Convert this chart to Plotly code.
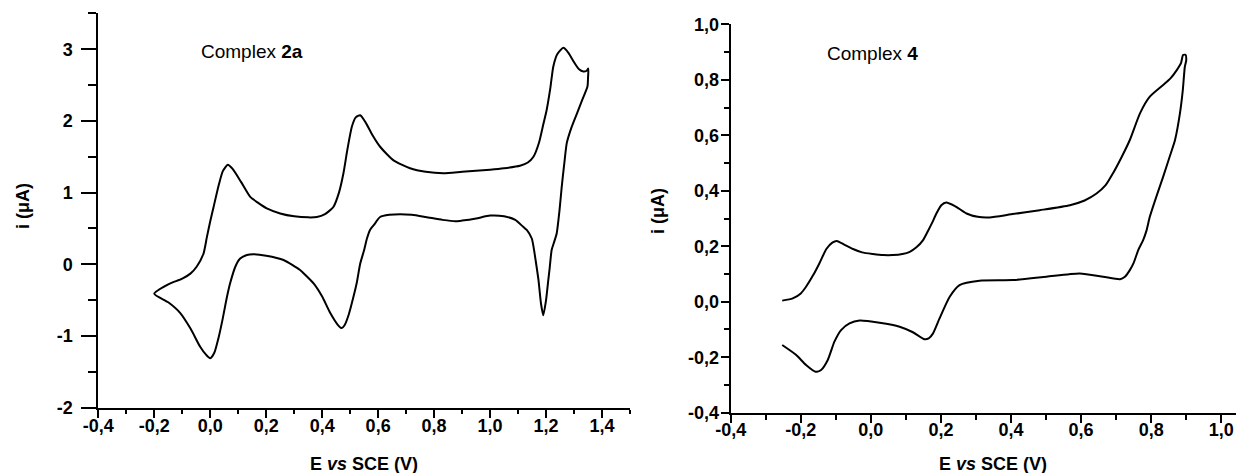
import plotly.graph_objects as go

# ---- Complex 2a (left panel) ----
e_2a = [-0.2, -0.15, -0.1, -0.071, -0.048, -0.024, -0.012, 0.0, 0.012, 0.03, 0.045, 0.063, 0.08, 0.11,
        0.143, 0.17, 0.202, 0.25, 0.3, 0.35, 0.381, 0.41, 0.44, 0.46, 0.476, 0.49, 0.506, 0.52, 0.536,
        0.555, 0.58, 0.607, 0.655, 0.714, 0.77, 0.833, 0.9, 1.0, 1.05, 1.107, 1.135, 1.155, 1.175, 1.19,
        1.202, 1.215, 1.226, 1.24, 1.262, 1.28, 1.3, 1.318, 1.333, 1.345, 1.351,
        1.35, 1.348, 1.33, 1.31, 1.29, 1.274, 1.265, 1.256, 1.248, 1.238, 1.228, 1.22, 1.213, 1.208,
        1.2, 1.19, 1.182, 1.173, 1.163, 1.155, 1.149, 1.131, 1.119, 1.09, 1.05, 1.0, 0.95, 0.9, 0.875,
        0.83, 0.77, 0.72, 0.679, 0.64, 0.607, 0.585, 0.571, 0.56, 0.55, 0.536, 0.524, 0.512, 0.495,
        0.48, 0.47, 0.455, 0.429, 0.4, 0.37, 0.34, 0.321, 0.262, 0.2, 0.155, 0.131, 0.107, 0.09, 0.071,
        0.06, 0.045, 0.03, 0.015, 0.0, -0.015, -0.036, -0.07, -0.107, -0.15, -0.2]
i_2a = [-0.41, -0.28, -0.2, -0.13, -0.03, 0.15, 0.38, 0.6, 0.8, 1.1, 1.3, 1.39, 1.33, 1.15,
        0.94, 0.86, 0.78, 0.71, 0.67, 0.655, 0.66, 0.7, 0.8, 1.0, 1.27, 1.6, 1.92, 2.05, 2.08,
        1.98, 1.8, 1.64, 1.45, 1.34, 1.29, 1.27, 1.29, 1.32, 1.34, 1.375, 1.42, 1.5, 1.7, 1.95,
        2.15, 2.45, 2.76, 2.93, 3.02, 2.95, 2.82, 2.72, 2.69, 2.7, 2.73,
        2.6, 2.48, 2.3, 2.1, 1.9, 1.69, 1.4, 1.08, 0.75, 0.43, 0.3, 0.2, -0.05, -0.22,
        -0.5, -0.71, -0.55, -0.22, 0.05, 0.25, 0.36, 0.48, 0.52, 0.62, 0.67, 0.68, 0.64, 0.61, 0.6,
        0.62, 0.66, 0.69, 0.7, 0.69, 0.66, 0.55, 0.48, 0.36, 0.2, 0.01, -0.25, -0.45, -0.7,
        -0.85, -0.89, -0.84, -0.68, -0.45, -0.27, -0.15, -0.08, 0.06, 0.12, 0.14, 0.13, 0.08, -0.03, -0.265,
        -0.45, -0.75, -1.02, -1.23, -1.31, -1.26, -1.15, -0.9, -0.68, -0.53, -0.41]

# ---- Complex 4 (right panel) ----
e_4 = [-0.253, -0.223, -0.2, -0.185, -0.165, -0.147, -0.127, -0.11, -0.097, -0.075, -0.051, -0.025,
       0.006, 0.035, 0.063, 0.09, 0.111, 0.13, 0.149, 0.163, 0.175, 0.187, 0.201, 0.215, 0.24, 0.273,
       0.305, 0.339, 0.4, 0.482, 0.568, 0.61, 0.644, 0.67, 0.691, 0.715, 0.739, 0.768, 0.796, 0.834,
       0.855, 0.873, 0.885, 0.891, 0.898,
       0.9, 0.896, 0.89, 0.882, 0.868, 0.852, 0.834, 0.815, 0.796, 0.787, 0.777, 0.763, 0.75, 0.739,
       0.725, 0.711, 0.663, 0.596, 0.501, 0.406, 0.31, 0.253, 0.225, 0.196, 0.177, 0.165, 0.153, 0.12,
       0.082, 0.025, -0.032, -0.061, -0.085, -0.104, -0.123, -0.142, -0.158, -0.185, -0.213, -0.253]
i_4 = [0.004, 0.012, 0.03, 0.054, 0.095, 0.138, 0.19, 0.213, 0.219, 0.205, 0.19, 0.178,
       0.172, 0.168, 0.168, 0.172, 0.18, 0.196, 0.222, 0.255, 0.285, 0.318, 0.348, 0.358, 0.345, 0.318,
       0.306, 0.304, 0.315, 0.33, 0.348, 0.365, 0.39, 0.42, 0.463, 0.52, 0.583, 0.679, 0.739, 0.781,
       0.805, 0.835, 0.86, 0.889, 0.89,
       0.87, 0.847, 0.76, 0.679, 0.583, 0.52, 0.45, 0.38, 0.306, 0.258, 0.222, 0.186, 0.14, 0.114,
       0.09, 0.081, 0.09, 0.102, 0.09, 0.078, 0.076, 0.06, 0.018, -0.06, -0.115, -0.132, -0.135, -0.11,
       -0.09, -0.076, -0.068, -0.078, -0.102, -0.144, -0.21, -0.246, -0.252, -0.228, -0.192, -0.156]

# ---- tick labels ----
x1_vals = [-0.4, -0.2, 0.0, 0.2, 0.4, 0.6, 0.8, 1.0, 1.2, 1.4]
x1_text = ["-0,4", "-0,2", "0,0", "0,2", "0,4", "0,6", "0,8", "1,0", "1,2", "1,4"]
y1_vals = [-2, -1, 0, 1, 2, 3]
y1_text = ["-2", "-1", "0", "1", "2", "3"]
x2_vals = [-0.4, -0.2, 0.0, 0.2, 0.4, 0.6, 0.8, 1.0]
x2_text = ["-0,4", "-0,2", "0,0", "0,2", "0,4", "0,6", "0,8", "1,0"]
y2_vals = [-0.4, -0.2, 0.0, 0.2, 0.4, 0.6, 0.8, 1.0]
y2_text = ["-0,4", "-0,2", "0,0", "0,2", "0,4", "0,6", "0,8", "1,0"]

# page has an 8px body margin; figure sized so it fills the 1244x473 window
OFF = 8
W, H = 1244 - OFF, 473 - OFF
FONT = "Liberation Sans, Arial, sans-serif"


def fx(px):
    return (px - OFF) / W


def fy(py):
    return 1 - (py - OFF) / H


fig = go.Figure()
fig.add_trace(go.Scatter(x=e_2a, y=i_2a, mode="lines", xaxis="x", yaxis="y",
                         line=dict(color="black", width=2, shape="spline", smoothing=0.6),
                         showlegend=False, hoverinfo="skip"))
fig.add_trace(go.Scatter(x=e_4, y=i_4, mode="lines", xaxis="x2", yaxis="y2",
                         line=dict(color="black", width=2, shape="spline", smoothing=0.6),
                         showlegend=False, hoverinfo="skip"))

tickfont = dict(family=FONT, size=18, color="black", weight="bold")


def ax(domain, rng, vals, text, anchor, ticklen, minor_len, minor_dtick, standoff):
    return dict(domain=domain, range=rng, anchor=anchor, tickmode="array", tickvals=vals,
                ticktext=text, ticks="outside", ticklen=ticklen, tickwidth=2, tickcolor="black",
                showline=True, linecolor="black", linewidth=2, showgrid=False, zeroline=False,
                tickfont=tickfont, ticklabelstandoff=standoff, fixedrange=True, automargin=False,
                minor=dict(tickmode="linear", tick0=0, dtick=minor_dtick, ticks="outside",
                           ticklen=minor_len, tickwidth=2, tickcolor="black", showgrid=False))


fig.update_layout(
    width=W, height=H, margin=dict(l=0, r=0, t=0, b=0, pad=0, autoexpand=False),
    plot_bgcolor="white", paper_bgcolor="white",
    xaxis=ax([fx(98.3), fx(630)], [-0.4, 1.5], x1_vals, x1_text, "y", 8, 4, 0.1, -7),
    yaxis=ax([fy(407.7), fy(13.4)], [-2, 3.5], y1_vals, y1_text, "x", 15, 8, 0.5, 5),
    xaxis2=ax([fx(730.7), 1.0], [-0.4, (1244 - 871.3) / 350], x2_vals, x2_text, "y2", 8, 5, 0.1, -8),
    yaxis2=ax([fy(412.7), fy(24.3)], [-0.4, 1.0], y2_vals, y2_text, "x2", 8, 5, 0.1, -2),
)

ann_font = dict(family=FONT, size=19, color="black")
title_font = dict(family=FONT, size=18, color="black")
common = dict(xref="paper", yref="paper", showarrow=False, xanchor="center", yanchor="middle")
fig.add_annotation(x=fx(252), y=fy(52), text="Complex <b>2a</b>", font=ann_font, **common)
fig.add_annotation(x=fx(872), y=fy(54), text="Complex <b>4</b>", font=ann_font, **common)
fig.add_annotation(x=fx(23), y=fy(206), text="<b>i (μA)</b>", textangle=-90, font=title_font, **common)
fig.add_annotation(x=fx(658), y=fy(211), text="<b>i (μA)</b>", textangle=-90, font=title_font, **common)
fig.add_annotation(x=fx(364), y=fy(464), text="<b>E <i>vs</i> SCE (V)</b>", font=title_font, **common)
fig.add_annotation(x=fx(993), y=fy(464), text="<b>E <i>vs</i> SCE (V)</b>", font=title_font, **common)

fig.write_html("out.html")
